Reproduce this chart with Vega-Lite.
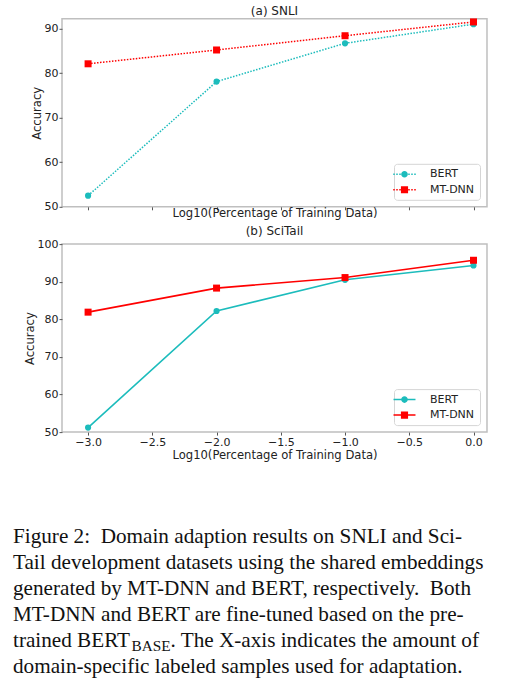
{
  "$schema": "https://vega.github.io/schema/vega-lite/v6.json",
  "padding": {"left": 13, "top": 3.8, "right": 0, "bottom": 0},
  "background": "white",
  "spacing": 3.3,
  "datasets": {
    "snli": [
      {"x": -3, "acc": 52.5, "model": "BERT"},
      {"x": -2, "acc": 78.1, "model": "BERT"},
      {"x": -1, "acc": 86.7, "model": "BERT"},
      {"x": 0, "acc": 91.0, "model": "BERT"},
      {"x": -3, "acc": 82.1, "model": "MT-DNN"},
      {"x": -2, "acc": 85.2, "model": "MT-DNN"},
      {"x": -1, "acc": 88.4, "model": "MT-DNN"},
      {"x": 0, "acc": 91.5, "model": "MT-DNN"}
    ],
    "scitail": [
      {"x": -3, "acc": 51.2, "model": "BERT"},
      {"x": -2, "acc": 82.2, "model": "BERT"},
      {"x": -1, "acc": 90.5, "model": "BERT"},
      {"x": 0, "acc": 94.3, "model": "BERT"},
      {"x": -3, "acc": 81.9, "model": "MT-DNN"},
      {"x": -2, "acc": 88.3, "model": "MT-DNN"},
      {"x": -1, "acc": 91.1, "model": "MT-DNN"},
      {"x": 0, "acc": 95.7, "model": "MT-DNN"}
    ],
    "caption": [
      {"line": 1, "pos": 0, "kind": "main", "text": "Figure 2:\u00a0 Domain adaption results on SNLI and Sci-"},
      {"line": 2, "pos": 0, "kind": "main", "text": "Tail development datasets using the shared embeddings"},
      {"line": 3, "pos": 0, "kind": "main", "text": "generated by MT-DNN and BERT, respectively.\u00a0 Both"},
      {"line": 4, "pos": 0, "kind": "main", "text": "MT-DNN and BERT are fine-tuned based on the pre-"},
      {"line": 5, "pos": 0, "kind": "main", "text": "trained BERT"},
      {"line": 5, "pos": 118.5, "kind": "sub", "text": "BASE"},
      {"line": 5, "pos": 157.5, "kind": "main", "text": ". The X-axis indicates the amount of"},
      {"line": 6, "pos": 0, "kind": "main", "text": "domain-specific labeled samples used for adaptation."}
    ]
  },
  "vconcat": [
    {
      "width": 425,
      "height": 188,
      "title": {"text": "(a) SNLI"},
      "data": {"name": "snli"},
      "encoding": {
        "x": {
          "field": "x", "type": "quantitative",
          "scale": {"domain": [-3.203, 0.105], "nice": false, "zero": false},
          "axis": {"values": [-3, -2.5, -2, -1.5, -1, -0.5, 0], "labels": false, "title": "Log10(Percentage of Training Data)", "titlePadding": -3}
        },
        "y": {
          "field": "acc", "type": "quantitative",
          "scale": {"domain": [50, 92.2], "nice": false, "zero": false},
          "axis": {"values": [50, 60, 70, 80, 90], "title": "Accuracy"}
        }
      },
      "layer": [
        {"transform": [{"filter": "datum.model === 'BERT'"}], "mark": {"type": "line", "color": "#1cbcbc", "strokeWidth": 1.5, "strokeDash": [1.5, 1.5]}},
        {"transform": [{"filter": "datum.model === 'MT-DNN'"}], "mark": {"type": "line", "color": "#ff0000", "strokeWidth": 1.5, "strokeDash": [1.5, 1.5]}},
        {"transform": [{"filter": "datum.model === 'BERT'"}], "mark": {"type": "circle", "color": "#1cbcbc", "opacity": 1, "size": 38}},
        {"transform": [{"filter": "datum.model === 'MT-DNN'"}], "mark": {"type": "square", "color": "#ff0000", "opacity": 1, "size": 49}},
        {
          "mark": {"type": "point", "filled": true, "opacity": 0, "size": 49, "strokeWidth": 0},
          "encoding": {
            "fill": {"field": "model", "type": "nominal", "scale": {"domain": ["BERT", "MT-DNN"], "range": ["#1cbcbc", "#ff0000"]},
              "legend": {"title": null, "orient": "bottom-right", "offset": 7, "symbolSize": 49, "symbolStrokeWidth": 0}},
            "stroke": {"field": "model", "type": "nominal", "scale": {"domain": ["BERT", "MT-DNN"], "range": ["#1cbcbc", "#ff0000"]},
              "legend": {"title": null, "orient": "bottom-right", "offset": 7, "symbolSize": 49, "symbolStrokeWidth": 0}},
            "shape": {"field": "model", "type": "nominal", "scale": {"domain": ["BERT", "MT-DNN"], "range": [
              "M-3.214,-0.214h0.43v0.43h-0.43ZM-2.357,-0.214h0.43v0.43h-0.43ZM-1.5,-0.214h0.43v0.43h-0.43ZM1.072,-0.214h0.43v0.43h-0.43ZM1.929,-0.214h0.43v0.43h-0.43ZM2.786,-0.214h0.43v0.43h-0.43ZM-0.95,0A0.95,0.95 0 1,1 0.95,0A0.95,0.95 0 1,1 -0.95,0Z",
              "M-3.214,-0.214h0.43v0.43h-0.43ZM-2.357,-0.214h0.43v0.43h-0.43ZM-1.5,-0.214h0.43v0.43h-0.43ZM1.072,-0.214h0.43v0.43h-0.43ZM1.929,-0.214h0.43v0.43h-0.43ZM2.786,-0.214h0.43v0.43h-0.43ZM-1.02,-1.02H1.02V1.02H-1.02Z"
            ]},
              "legend": {"title": null, "orient": "bottom-right", "offset": 7, "symbolSize": 49, "symbolStrokeWidth": 0}}
          }
        }
      ]
    },
    {
      "width": 425,
      "height": 188,
      "title": {"text": "(b) SciTail"},
      "data": {"name": "scitail"},
      "encoding": {
        "x": {
          "field": "x", "type": "quantitative",
          "scale": {"domain": [-3.203, 0.105], "nice": false, "zero": false},
          "axis": {"values": [-3, -2.5, -2, -1.5, -1, -0.5, 0], "format": ".1f", "title": "Log10(Percentage of Training Data)"}
        },
        "y": {
          "field": "acc", "type": "quantitative",
          "scale": {"domain": [50, 100], "nice": false, "zero": false},
          "axis": {"values": [50, 60, 70, 80, 90, 100], "title": "Accuracy"}
        }
      },
      "layer": [
        {"transform": [{"filter": "datum.model === 'BERT'"}], "mark": {"type": "line", "color": "#1cbcbc", "strokeWidth": 1.6}},
        {"transform": [{"filter": "datum.model === 'MT-DNN'"}], "mark": {"type": "line", "color": "#ff0000", "strokeWidth": 1.6}},
        {"transform": [{"filter": "datum.model === 'BERT'"}], "mark": {"type": "circle", "color": "#1cbcbc", "opacity": 1, "size": 38}},
        {"transform": [{"filter": "datum.model === 'MT-DNN'"}], "mark": {"type": "square", "color": "#ff0000", "opacity": 1, "size": 49}},
        {
          "mark": {"type": "point", "filled": true, "opacity": 0, "size": 49, "strokeWidth": 0},
          "encoding": {
            "fill": {"field": "model", "type": "nominal", "scale": {"domain": ["BERT", "MT-DNN"], "range": ["#1cbcbc", "#ff0000"]},
              "legend": {"title": null, "orient": "bottom-right", "offset": 7, "symbolSize": 49, "symbolStrokeWidth": 0}},
            "stroke": {"field": "model", "type": "nominal", "scale": {"domain": ["BERT", "MT-DNN"], "range": ["#1cbcbc", "#ff0000"]},
              "legend": {"title": null, "orient": "bottom-right", "offset": 7, "symbolSize": 49, "symbolStrokeWidth": 0}},
            "shape": {"field": "model", "type": "nominal", "scale": {"domain": ["BERT", "MT-DNN"], "range": [
              "M-3.14,-0.22H3.14V0.22H-3.14ZM-0.95,0A0.95,0.95 0 1,1 0.95,0A0.95,0.95 0 1,1 -0.95,0Z",
              "M-3.14,-0.22H3.14V0.22H-3.14ZM-1.02,-1.02H1.02V1.02H-1.02Z"
            ]},
              "legend": {"title": null, "orient": "bottom-right", "offset": 7, "symbolSize": 49, "symbolStrokeWidth": 0}}
          }
        }
      ]
    },
    {
      "width": 425,
      "height": 208,
      "view": {"stroke": null},
      "data": {"name": "caption"},
      "encoding": {
        "x": {"field": "pos", "type": "quantitative", "scale": {"domain": [49, 474], "nice": false, "zero": false}, "axis": null},
        "y": {"field": "line", "type": "quantitative", "scale": {"domain": [-2, 6], "reverse": true, "nice": false, "zero": false}, "axis": null},
        "text": {"field": "text", "type": "nominal"}
      },
      "layer": [
        {
          "transform": [{"filter": "datum.kind === 'main'"}],
          "mark": {"type": "text", "align": "left", "baseline": "alphabetic", "font": "Liberation Serif", "fontSize": 21.2, "color": "#111"}
        },
        {
          "transform": [{"filter": "datum.kind === 'sub'"}],
          "mark": {"type": "text", "align": "left", "baseline": "alphabetic", "font": "Liberation Serif", "fontSize": 15.3, "dy": 4, "color": "#111"}
        }
      ]
    }
  ],
  "resolve": {"scale": {"fill": "independent", "stroke": "independent", "shape": "independent", "x": "independent", "y": "independent"}, "legend": {"fill": "independent", "stroke": "independent", "shape": "independent"}},
  "config": {
    "font": "DejaVu Sans",
    "view": {"stroke": "#bfbfbf", "strokeWidth": 1.5},
    "title": {"font": "DejaVu Sans", "fontSize": 12, "fontWeight": "normal", "color": "#222", "offset": 0.5},
    "axis": {
      "grid": false,
      "domain": false,
      "ticks": true,
      "tickSize": 3,
      "tickColor": "#555",
      "labelFont": "DejaVu Sans",
      "labelFontSize": 11,
      "labelColor": "#222",
      "labelPadding": 1,
      "titleFont": "DejaVu Sans",
      "titleFontSize": 11.6,
      "titleFontWeight": "normal",
      "titleColor": "#222",
      "titlePadding": 2
    },
    "legend": {
      "labelFont": "DejaVu Sans",
      "labelFontSize": 11,
      "labelColor": "#222",
      "labelOffset": 20,
      "padding": 5,
      "rowPadding": 3.5,
      "symbolOpacity": 1,
      "strokeColor": "#d5d5d5",
      "fillColor": "white",
      "cornerRadius": 3
    }
  }
}
